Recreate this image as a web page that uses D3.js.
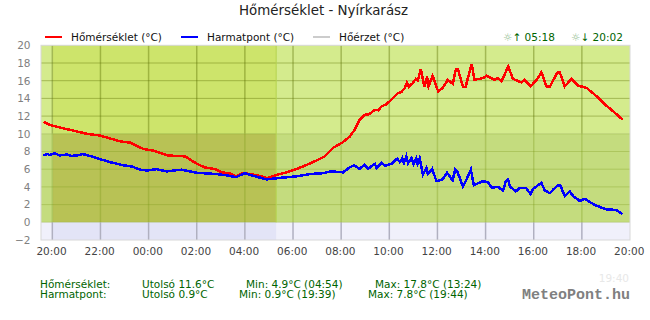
<!DOCTYPE html>
<html>
<head>
<meta charset="utf-8">
<script src="https://cdnjs.cloudflare.com/ajax/libs/d3/7.8.5/d3.min.js"></script>
<style>
  html, body { margin: 0; padding: 0; background: #fff; }
  svg { display: block; font-family: "DejaVu Sans", sans-serif; }
</style>
</head>
<body>
<div class="container"></div>
<script>
// hours since 20:00 of the previous day, values in °C
var tempHours = [-0.37,-0.10,0.32,0.74,1.43,1.98,2.81,3.23,3.77,4.18,4.47,4.80,5.51,5.72,6.01,6.34,6.76,7.05,7.38,7.63,7.92,8.21,8.54,8.92,9.25,9.66,10.08,10.49,10.91,11.32,11.66,12.07,12.36,12.57,12.75,12.99,13.15,13.40,13.55,13.68,13.85,14.09,14.36,14.50,14.65,14.73,14.81,14.98,15.10,15.18,15.31,15.46,15.57,15.63,15.80,16.03,16.22,16.43,16.64,16.77,16.85,17.06,17.17,17.42,17.54,17.90,18.04,18.38,18.51,18.66,18.94,19.14,19.49,19.63,19.87,20.12,20.32,20.53,20.67,20.97,21.08,21.29,21.57,21.84,22.19,22.61,22.96,23.30,23.69];
var tempValues = [11.35,11.0,10.7,10.45,10.0,9.8,9.15,9.0,8.3,8.1,7.85,7.55,7.45,7.1,6.6,6.2,6.0,5.65,5.5,5.2,5.6,5.45,5.3,5.0,5.3,5.6,5.95,6.4,6.9,7.45,8.4,9.05,9.7,10.5,11.5,12.15,12.2,12.7,12.65,13.1,13.3,13.85,14.6,14.7,15.2,15.8,15.3,15.75,16.2,16.0,17.3,15.3,16.45,15.35,16.55,14.8,15.2,16.1,15.65,17.35,17.35,15.3,15.3,17.9,16.1,16.3,16.55,16.1,16.3,15.9,17.6,16.2,15.8,16.1,15.35,16.1,16.95,15.35,15.3,16.9,16.95,15.35,16.2,15.45,15.2,14.25,13.3,12.55,11.6];

var dewHours = [-0.37,-0.20,-0.10,0.10,0.30,0.60,0.80,1.0,1.25,1.44,1.85,2.40,2.95,3.30,3.66,3.93,4.33,4.75,5.37,6.0,6.83,7.25,7.63,8.0,8.34,8.90,9.58,10.15,10.70,11.24,11.58,12.08,12.35,12.53,12.77,12.98,13.12,13.40,13.47,13.68,13.82,14.09,14.33,14.44,14.54,14.61,14.71,14.78,14.92,15.01,15.12,15.17,15.26,15.40,15.54,15.60,15.78,15.96,16.22,16.40,16.63,16.74,16.83,17.06,17.21,17.39,17.51,17.90,18.11,18.25,18.51,18.73,18.84,18.94,19.01,19.26,19.42,19.67,19.87,19.98,20.32,20.46,20.67,20.81,20.98,21.11,21.29,21.50,21.64,21.92,22.12,22.54,23.02,23.43,23.69];
var dewValues = [7.55,7.7,7.6,7.8,7.55,7.65,7.5,7.55,7.7,7.6,7.25,6.8,6.45,6.3,5.95,5.85,6.0,5.75,5.95,5.6,5.45,5.3,5.1,5.55,5.25,4.85,5.05,5.2,5.45,5.55,5.75,5.65,6.2,6.45,6.05,6.5,6.05,6.6,6.15,6.7,6.4,6.6,7.2,6.8,7.25,6.7,7.45,6.7,7.25,6.6,7.2,6.6,7.25,5.4,6.15,5.45,6.05,4.65,4.85,5.6,4.75,5.95,5.7,4.05,4.85,5.95,4.2,4.65,4.5,3.9,4.0,3.6,4.65,4.85,4.05,3.5,3.9,3.9,3.2,3.8,4.45,3.6,3.3,3.7,4.15,4.15,2.95,3.5,2.95,2.4,2.65,1.95,1.45,1.4,0.9];

var legendNames = ['Hőmérséklet (°C)', 'Harmatpont (°C)', 'Hőérzet (°C)'];
var legendColors = ['#ff0000', '#0000ff', '#cccccc'];
var yTicks = [-2,0,2,4,6,8,10,12,14,16,18,20];
var xTicks = [0,2,4,6,8,10,12,14,16,18,20,22,24];
var xLabels = ['20:00','22:00','00:00','02:00','04:00','06:00','08:00','10:00','12:00','14:00','16:00','18:00','20:00'];
var sunset = 0.03, sunrise = 9.3;

var statRows = [
  ['Hőmérséklet:', 'Utolsó 11.6°C', 'Min: 4.9°C (04:54)', 'Max: 17.8°C (13:24)'],
  ['Harmatpont:', 'Utolsó 0.9°C', 'Min: 0.9°C (19:39)', 'Max: 7.8°C (19:44)']
];

var svg = d3.select('.container')
  .append('svg')
  .attr('width', 650)
  .attr('height', 320);

var x = d3.scaleLinear().domain([-0.47, 24]).range([41, 630]);
var y = d3.scaleLinear().domain([-2, 20]).range([240, 45.3]);

// colour bands behind the curves: day fill, night fill, grid colour
var topGrid = 'rgba(90,110,0,0.4)',
  midGrid = 'rgba(120,150,20,0.3)';
var bands = [
  {from: 10, to: 20, day: '#d4eb8d', night: '#cde46b', grid: topGrid},
  {from: 0, to: 10, day: '#c4dc7e', night: '#b8c255', grid: midGrid},
  {from: -2, to: 0, day: '#f0f0fb', night: '#e3e4f7', grid: '#b0b0c0'}
];

var plot = svg.append('g').attr('class', 'plot');
bands.forEach(function(b) {
  plot.append('rect')
    .attr('x', x.range()[0])
    .attr('width', x.range()[1] - x.range()[0])
    .attr('y', y(b.to))
    .attr('height', y(b.from) - y(b.to))
    .attr('fill', b.day);
  plot.append('rect')
    .attr('x', x(sunset))
    .attr('width', x(sunrise) - x(sunset))
    .attr('y', y(b.to))
    .attr('height', y(b.from) - y(b.to))
    .attr('fill', b.night);
  // vertical grid, one piece per band
  plot.selectAll(null)
    .data(xTicks.slice(0, -1))
    .enter()
    .append('line')
    .attr('x1', function(d) { return x(d); })
    .attr('x2', function(d) { return x(d); })
    .attr('y1', y(b.to))
    .attr('y2', y(b.from))
    .attr('stroke', b.grid)
    .attr('stroke-width', 1.5);
});

// horizontal grid
plot.selectAll('.hgrid')
  .data(yTicks.filter(function(d) { return d > -2 && d < 20; }))
  .enter()
  .append('line')
  .attr('class', 'hgrid')
  .attr('x1', x.range()[0])
  .attr('x2', x.range()[1])
  .attr('y1', function(d) { return y(d); })
  .attr('y2', function(d) { return y(d); })
  .attr('stroke', function(d) { return d > 10 ? topGrid : midGrid; })
  .attr('stroke-width', 1);

// sunrise edge is a touch brighter
plot.append('line')
  .attr('x1', x(sunrise)).attr('x2', x(sunrise))
  .attr('y1', y(20)).attr('y2', y(0))
  .attr('stroke', '#b5d34f')
  .attr('stroke-width', 1);

plot.append('rect')
  .attr('x', x.range()[0])
  .attr('y', y(20))
  .attr('width', x.range()[1] - x.range()[0])
  .attr('height', y(-2) - y(20))
  .attr('fill', 'none')
  .attr('stroke', '#d8d8d8')
  .attr('stroke-width', 1);

var line = d3.line()
  .x(function(d) { return x(d[0]); })
  .y(function(d) { return y(d[1]); });

svg.append('path')
  .datum(d3.zip(tempHours, tempValues))
  .attr('d', line)
  .attr('fill', 'none')
  .attr('stroke', '#ff0000')
  .attr('stroke-width', 2.5)
  .attr('shape-rendering', 'crispEdges');

svg.append('path')
  .datum(d3.zip(dewHours, dewValues))
  .attr('d', line)
  .attr('fill', 'none')
  .attr('stroke', '#0000ff')
  .attr('stroke-width', 2.5)
  .attr('shape-rendering', 'crispEdges');

// axes
var yAxis = svg.append('g')
  .attr('transform', 'translate(30.5,0)')
  .call(d3.axisLeft(y).tickValues(yTicks).tickSize(0).tickPadding(0));
yAxis.select('.domain').remove();
yAxis.selectAll('text')
  .attr('font-family', '"DejaVu Sans", sans-serif')
  .attr('font-size', 10.5)
  .attr('fill', '#808080');

var xAxis = svg.append('g')
  .attr('transform', 'translate(-1.3,248)')
  .call(d3.axisBottom(x).tickValues(xTicks).tickSize(0).tickPadding(0)
    .tickFormat(function(d, i) { return xLabels[i]; }));
xAxis.select('.domain').remove();
xAxis.selectAll('text')
  .attr('font-family', '"DejaVu Sans", sans-serif')
  .attr('font-size', 10.5)
  .attr('fill', '#444444');

// title
svg.append('text')
  .attr('x', 323.5)
  .attr('y', 15)
  .attr('text-anchor', 'middle')
  .attr('font-size', 13.4)
  .attr('fill', '#222')
  .text('Hőmérséklet - Nyírkarász');

// legend
var legendX = [45, 181, 313];
legendNames.forEach(function(name, i) {
  svg.append('line')
    .attr('x1', legendX[i]).attr('x2', legendX[i] + 17)
    .attr('y1', 37).attr('y2', 37)
    .attr('stroke', legendColors[i])
    .attr('stroke-width', 2);
  svg.append('text')
    .attr('x', legendX[i] + 26)
    .attr('y', 41)
    .attr('font-size', 10.5)
    .attr('fill', '#111')
    .text(name);
});

// sunrise / sunset
[[503, '↑ 05:18'], [571, '↓ 20:02']].forEach(function(s) {
  var t = svg.append('text')
    .attr('x', s[0])
    .attr('y', 41)
    .attr('font-size', 10.5)
    .attr('fill', '#006400');
  t.append('tspan').attr('fill', '#8fbc8f').text('☼');
  t.append('tspan').text(s[1]);
});

// stats under the chart
var statX = [[40, 142, 246, 375], [40, 142, 239, 368]];
statRows.forEach(function(row, r) {
  row.forEach(function(txt, c) {
    svg.append('text')
      .attr('x', statX[r][c])
      .attr('y', 288 + r * 10)
      .attr('font-size', 10.5)
      .attr('fill', '#006400')
      .text(txt);
  });
});

svg.append('text')
  .attr('x', 629).attr('y', 282)
  .attr('text-anchor', 'end')
  .attr('font-size', 10.5)
  .attr('fill', '#e8e8e8')
  .text('19:40');

svg.append('text')
  .attr('x', 630).attr('y', 299)
  .attr('text-anchor', 'end')
  .attr('font-family', '"Liberation Mono", monospace')
  .attr('font-size', 15)
  .attr('font-weight', 'bold')
  .attr('fill', '#808080')
  .text('MeteoPont.hu');
</script>
</body>
</html>
